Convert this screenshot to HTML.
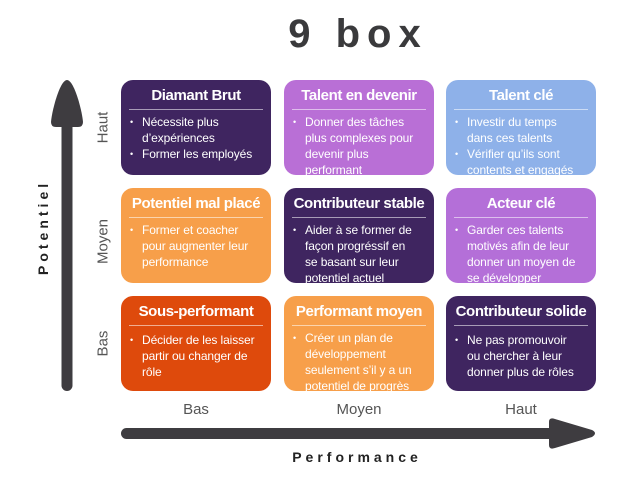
<!DOCTYPE html>
<html><head><meta charset="utf-8"><style>
body{margin:0;width:640px;height:478px;background:#fff;position:relative;overflow:hidden;font-family:"Liberation Sans",sans-serif}
.t{position:absolute;left:0;width:640px;top:12px;text-align:center;font-size:40px;font-weight:bold;color:#3a3a3c;letter-spacing:7px;padding-left:76px;box-sizing:border-box}
.b{position:absolute;width:150px;height:95px;border-radius:12px;color:#fff;overflow:hidden}
.b h{display:block;text-align:center;font-weight:bold;font-size:15px;margin-top:7px;height:19px;white-space:nowrap;letter-spacing:-0.4px}
.b hr{border:0;border-top:1px solid rgba(255,255,255,.55);margin:3px 8px 4px}
.b ul{margin:0;padding:0 0 0 21px;list-style:none;font-size:12px;line-height:16px;white-space:nowrap;letter-spacing:-0.1px}
.b li{position:relative}
.b li:before{content:"•";position:absolute;left:-12px;font-size:9px}
.l{position:absolute;color:#555;font-size:15px}
.r{position:absolute;color:#555;font-size:15px;transform:rotate(-90deg);transform-origin:center}
</style></head><body>
<div class="t">9 box</div>
<svg width="640" height="478" style="position:absolute;left:0;top:0">
<path d="M67 80 C60 80 52 110 51 122 Q51 127 56 127 L78 127 Q83 127 83 122 C82 110 74 80 67 80Z" fill="#3e3c40"/>
<rect x="61.5" y="120" width="11" height="271" rx="5.5" fill="#3e3c40"/>
<rect x="121" y="428" width="440" height="11" rx="5.5" fill="#3e3c40"/>
<path d="M549 422 Q549 417 555 419 L592 430 Q598 433 592 437 L555 448 Q549 450 549 445Z" fill="#3e3c40"/>
</svg>
<div class="r" style="left:8px;top:232px;width:70px;text-align:center;font-weight:bold;color:#222;letter-spacing:4px;font-size:14px">Potentiel</div>
<div class="r" style="left:78px;top:119px;width:50px;text-align:center">Haut</div>
<div class="r" style="left:78px;top:233px;width:50px;text-align:center">Moyen</div>
<div class="r" style="left:78px;top:335px;width:50px;text-align:center">Bas</div>
<div class="l" style="left:146px;width:100px;text-align:center;top:401px">Bas</div>
<div class="l" style="left:309px;width:100px;text-align:center;top:401px">Moyen</div>
<div class="l" style="left:471px;width:100px;text-align:center;top:401px">Haut</div>
<div class="l" style="left:257px;width:200px;text-align:center;top:449px;font-weight:bold;color:#222;letter-spacing:4px;font-size:14px">Performance</div>

<div class="b" style="left:121px;top:80px;background:#3f2560"><h>Diamant Brut</h><hr><ul><li>Nécessite plus<br>d’expériences</li><li>Former les employés</li></ul></div>
<div class="b" style="left:284px;top:80px;background:#b96fd6"><h>Talent en devenir</h><hr><ul><li>Donner des tâches<br>plus complexes pour<br>devenir plus<br>performant</li></ul></div>
<div class="b" style="left:446px;top:80px;background:#8eb1e9"><h>Talent clé</h><hr><ul><li>Investir du temps<br>dans ces talents</li><li>Vérifier qu’ils sont<br>contents et engagés</li></ul></div>

<div class="b" style="left:121px;top:188px;background:#f79f4a"><h>Potentiel mal placé</h><hr><ul><li>Former et coacher<br>pour augmenter leur<br>performance</li></ul></div>
<div class="b" style="left:284px;top:188px;background:#3f2560"><h>Contributeur stable</h><hr><ul><li>Aider à se former de<br>façon progréssif en<br>se basant sur leur<br>potentiel actuel</li></ul></div>
<div class="b" style="left:446px;top:188px;background:#b46fd8"><h>Acteur clé</h><hr><ul><li>Garder ces talents<br>motivés afin de leur<br>donner un moyen de<br>se développer</li></ul></div>

<div class="b" style="left:121px;top:296px;background:#de4a0c"><h>Sous-performant</h><hr><ul style="margin-top:6px"><li>Décider de les laisser<br>partir ou changer de<br>rôle</li></ul></div>
<div class="b" style="left:284px;top:296px;background:#f79f4a"><h>Performant moyen</h><hr><ul><li>Créer un plan de<br>développement<br>seulement s’il y a un<br>potentiel de progrès</li></ul></div>
<div class="b" style="left:446px;top:296px;background:#3f2560"><h>Contributeur solide</h><hr><ul style="margin-top:6px"><li>Ne pas promouvoir<br>ou chercher à leur<br>donner plus de rôles</li></ul></div>
</body></html>
